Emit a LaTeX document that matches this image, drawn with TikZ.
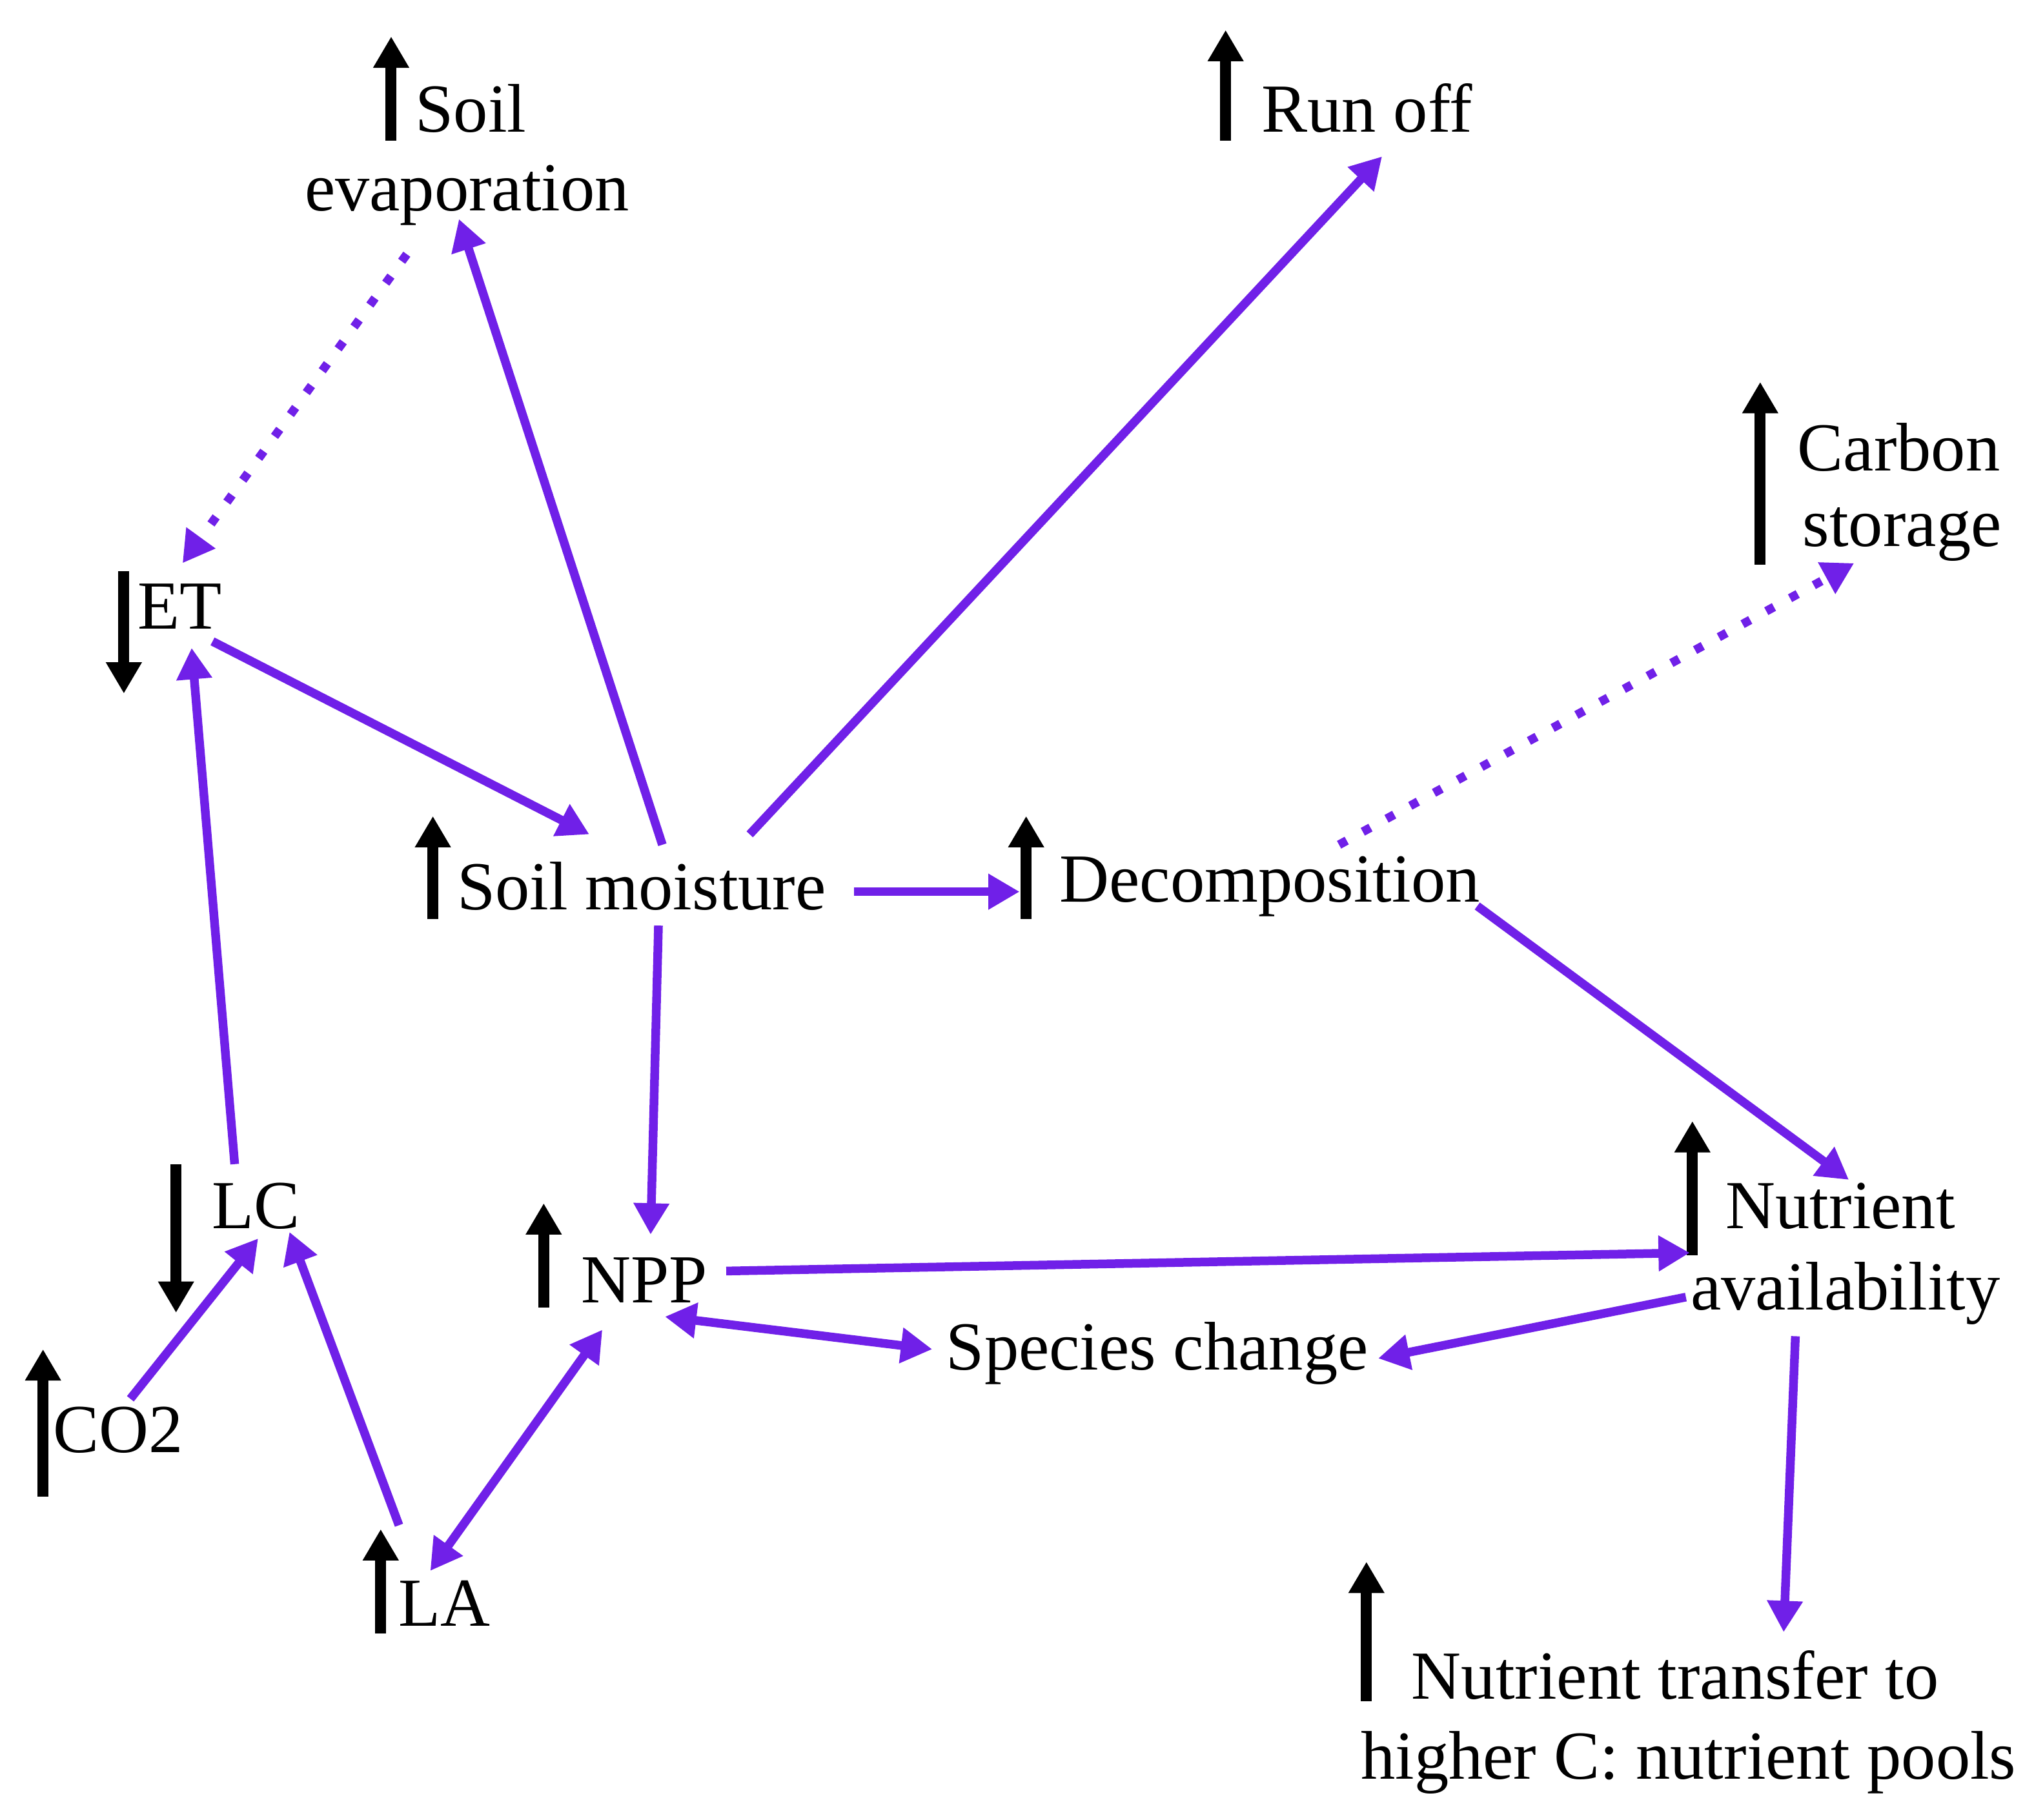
\documentclass[tikz,border=0pt]{standalone}
\usepackage{fontspec}
\setmainfont{Liberation Serif}
\usetikzlibrary{arrows.meta}
\definecolor{pur}{RGB}{112,32,232}
\begin{document}
\begin{tikzpicture}[x=0.01cm,y=-0.01cm,
  lbl/.style={font=\fontsize{15}{18}\selectfont,inner sep=0pt,anchor=west},
  up/.style={line width=2.4pt,-{Triangle[length=0.24cm,width=0.26cm]}},
  pa/.style={pur,line width=1.9pt,-{Triangle[length=0.24cm,width=0.26cm]}},
  pd/.style={pur,line width=1.9pt,{Triangle[length=0.24cm,width=0.26cm]}-{Triangle[length=0.24cm,width=0.26cm]}},
  pdot/.style={pur,line width=1.9pt,dash pattern=on 1.9pt off 4pt,-{Triangle[length=0.24cm,width=0.26cm]}}]
\useasboundingbox (0,0) rectangle (1560,1396);
% labels
\node[lbl] (se1) at (318,83) {Soil};
\node[lbl] (se2) at (233,150) {evaporation};
\node[lbl] (ro) at (967,83) {Run off};
\node[lbl] (cs1) at (1378,343) {Carbon};
\node[lbl] (cs2) at (1382,410) {storage};
\node[lbl] (et) at (105,465) {ET};
\node[lbl] (sm) at (350,680) {Soil moisture};
\node[lbl] (dc) at (812,680) {Decomposition};
\node[lbl] (lc) at (162,925) {LC};
\node[lbl] (npp) at (445,982) {NPP};
\node[lbl] (na1) at (1323,925) {Nutrient};
\node[lbl] (na2) at (1296,992) {availability};
\node[lbl] (sc) at (725,1038) {Species change};
\node[lbl] (co) at (40,1097) {CO2};
\node[lbl] (la) at (305,1230) {LA};
\node[lbl] (nt1) at (1082,1285) {Nutrient transfer to};
\node[lbl] (nt2) at (1043,1352) {higher C: nutrient pools};
% black arrows
\coordinate (b1a) at (300,108); \coordinate (b1b) at (300,28); \draw[up] (b1a)--(b1b);
\coordinate (b2a) at (940,108); \coordinate (b2b) at (940,23); \draw[up] (b2a)--(b2b);
\coordinate (b3a) at (1350,433); \coordinate (b3b) at (1350,293); \draw[up] (b3a)--(b3b);
\coordinate (b4a) at (95,438); \coordinate (b4b) at (95,532); \draw[up] (b4a)--(b4b);
\coordinate (b5a) at (332,705); \coordinate (b5b) at (332,626); \draw[up] (b5a)--(b5b);
\coordinate (b6a) at (787,705); \coordinate (b6b) at (787,626); \draw[up] (b6a)--(b6b);
\coordinate (b7a) at (135,893); \coordinate (b7b) at (135,1007); \draw[up] (b7a)--(b7b);
\coordinate (b8a) at (417,1003); \coordinate (b8b) at (417,923); \draw[up] (b8a)--(b8b);
\coordinate (b9a) at (1298,963); \coordinate (b9b) at (1298,860); \draw[up] (b9a)--(b9b);
\coordinate (b10a) at (33,1148); \coordinate (b10b) at (33,1035); \draw[up] (b10a)--(b10b);
\coordinate (b11a) at (292,1253); \coordinate (b11b) at (292,1173); \draw[up] (b11a)--(b11b);
\coordinate (b12a) at (1048,1305); \coordinate (b12b) at (1048,1198); \draw[up] (b12a)--(b12b);
% purple connectors
\coordinate (p1a) at (312,195); \coordinate (p1b) at (140,432); \draw[pdot] (p1a)--(p1b);
\coordinate (p2a) at (508,648); \coordinate (p2b) at (352,168); \draw[pa] (p2a)--(p2b);
\coordinate (p3a) at (163,492); \coordinate (p3b) at (452,640); \draw[pa] (p3a)--(p3b);
\coordinate (p4a) at (180,893); \coordinate (p4b) at (147,497); \draw[pa] (p4a)--(p4b);
\coordinate (p5a) at (575,640); \coordinate (p5b) at (1060,120); \draw[pa] (p5a)--(p5b);
\coordinate (p6a) at (655,684); \coordinate (p6b) at (782,684); \draw[pa] (p6a)--(p6b);
\coordinate (p7a) at (1027,648); \coordinate (p7b) at (1422,432); \draw[pdot] (p7a)--(p7b);
\coordinate (p8a) at (1133,695); \coordinate (p8b) at (1418,905); \draw[pa] (p8a)--(p8b);
\coordinate (p9a) at (505,710); \coordinate (p9b) at (499,947); \draw[pa] (p9a)--(p9b);
\coordinate (p10a) at (557,975); \coordinate (p10b) at (1296,961); \draw[pa] (p10a)--(p10b);
\coordinate (p11a) at (510,1010); \coordinate (p11b) at (715,1035); \draw[pd] (p11a)--(p11b);
\coordinate (p12a) at (1293,995); \coordinate (p12b) at (1057,1042); \draw[pa] (p12a)--(p12b);
\coordinate (p13a) at (1377,1025); \coordinate (p13b) at (1368,1252); \draw[pa] (p13a)--(p13b);
\coordinate (p14a) at (100,1073); \coordinate (p14b) at (198,950); \draw[pa] (p14a)--(p14b);
\coordinate (p15a) at (306,1170); \coordinate (p15b) at (222,945); \draw[pa] (p15a)--(p15b);
\coordinate (p16a) at (462,1020); \coordinate (p16b) at (330,1205); \draw[pd] (p16a)--(p16b);
\end{tikzpicture}
\end{document}
